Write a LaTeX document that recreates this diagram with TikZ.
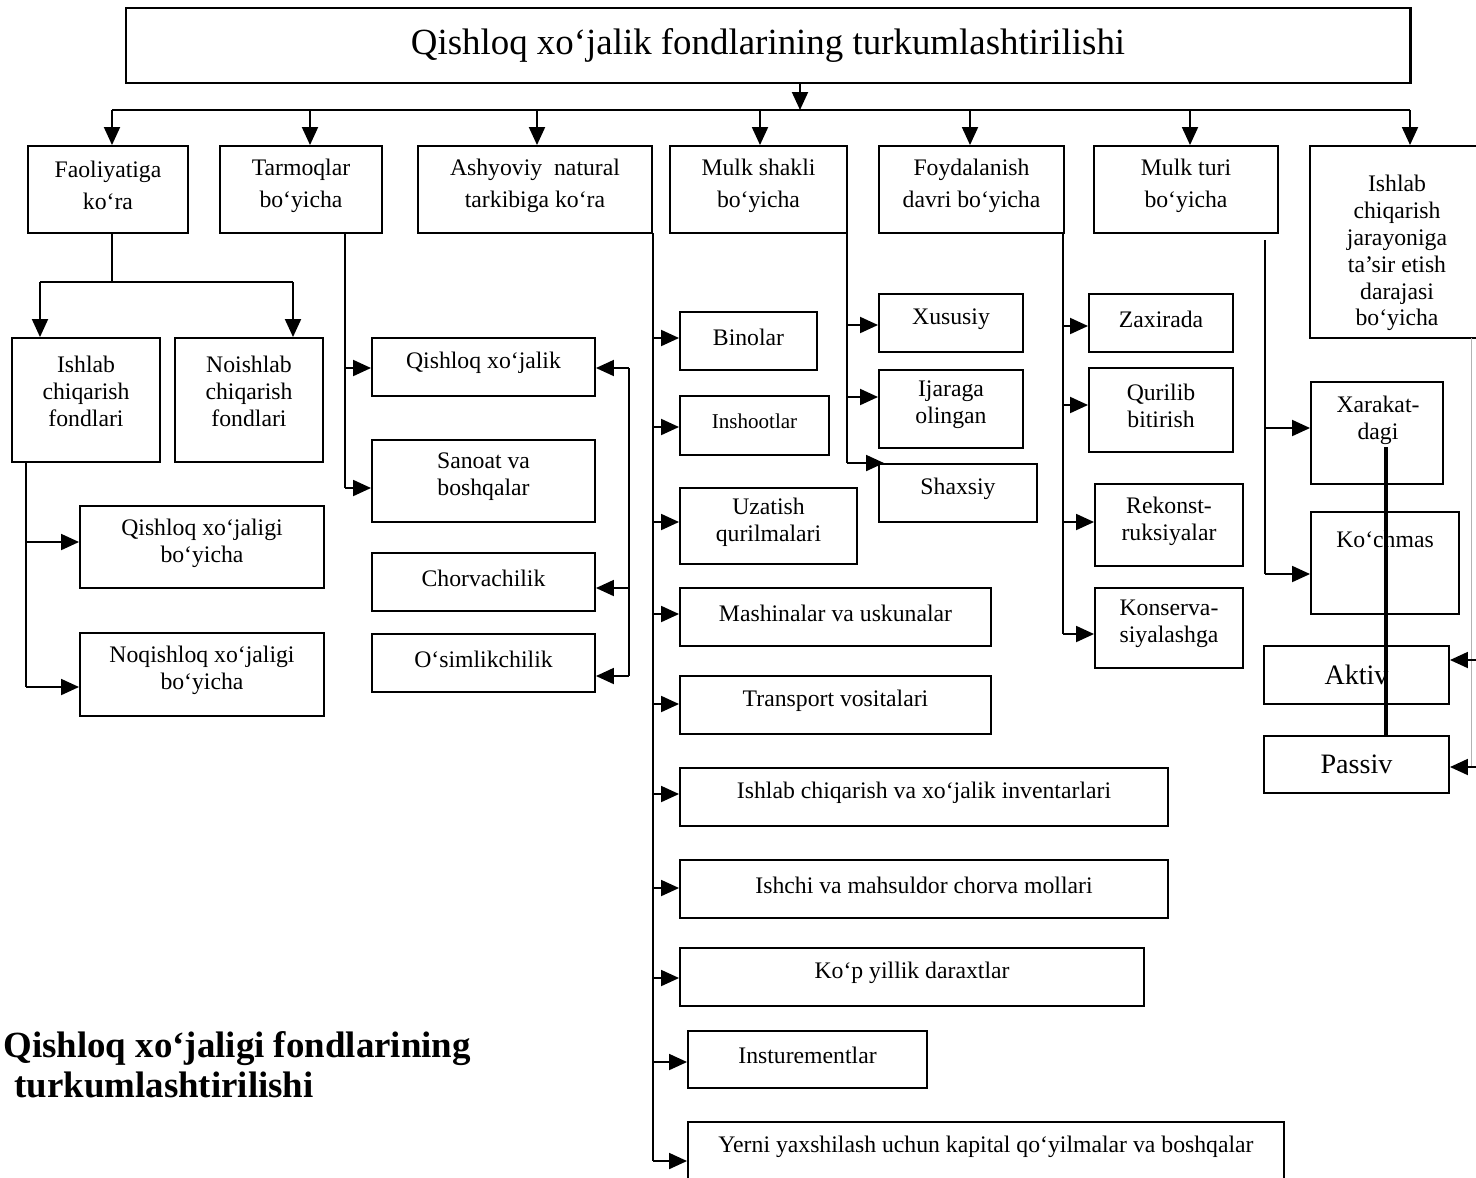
\documentclass[tikz,border=0pt]{standalone}
\usepackage{fontspec}
\setmainfont{Liberation Serif}
\usetikzlibrary{arrows.meta,fit}

\tikzset{
  box/.style={draw, line width=1.1pt, inner sep=0pt},
  lab/.style={inner sep=0pt, align=center, font=\fontsize{13.5}{15.3}\selectfont},
  clab/.style={lab, yshift=0.08cm},
  hlab/.style={clab, font=\fontsize{13.5}{18.2}\selectfont},
  arr/.style={-{Triangle[length=0.36cm,width=0.32cm]}, line width=1.1pt},
  ln/.style={line width=1.1pt},
}

\begin{document}
\begin{tikzpicture}[x=0.02cm, y=-0.02cm]
  \useasboundingbox (0,0) rectangle (1476,1177);

  % title and bus
  \node[box, line width=1.7pt, fit={(126,8) (1410,83)},
        label={[lab, font=\fontsize{21}{25}\selectfont]center:Qishloq xo‘jalik fondlarining turkumlashtirilishi}] (title) {};
  \coordinate (busL) at (112,110);
  \coordinate (busR) at (1410,110);
  \coordinate (tarr) at ([xshift=0.64cm]title.south);
  \draw[ln] (busL) -- (busR);
  \draw[arr] (tarr) -- (tarr |- busL);

  % top row
  \node[box, fit={(28,146) (188,233)}, label={[hlab]center:{Faoliyatiga\\ko‘ra}}] (faol) {};
  \node[box, fit={(220,146) (382,233)}, label={[hlab]center:{Tarmoqlar\\bo‘yicha}}] (tarm) {};
  \node[box, fit={(418,146) (652,233)}, label={[hlab]center:{Ashyoviy\ \ natural\\tarkibiga ko‘ra}}] (ashy) {};
  \node[box, fit={(670,146) (847,233)}, label={[hlab]center:{Mulk shakli\\bo‘yicha}}] (mshak) {};
  \node[box, fit={(879,146) (1064,233)}, label={[hlab]center:{Foydalanish\\davri bo‘yicha}}] (foyd) {};
  \node[box, fit={(1094,146) (1278,233)}, label={[hlab]center:{Mulk turi\\bo‘yicha}}] (mturi) {};
  \node[box, fit={(1310,146) (1480,338)}] (ishjar) {};
  \node[lab] (ishjartx) at (1397,253) {Ishlab\\chiqarish\\jarayoniga\\ta’sir etish\\darajasi\\bo‘yicha};

  \foreach \x/\n in {112/faol, 310/tarm, 537/ashy, 760/mshak, 970/foyd, 1190/mturi, 1410/ishjar}{
    \coordinate (b) at (\x,110);
    \draw[arr] (b) -- (b |- \n.north);
  }

  % Faoliyatiga ko'ra
  \node[box, fit={(12,338) (160,462)}, label={[lab, yshift=0.18cm]center:{Ishlab\\chiqarish\\fondlari}}] (ishf) {};
  \node[box, fit={(175,338) (323,462)}, label={[lab, yshift=0.18cm]center:{Noishlab\\chiqarish\\fondlari}}] (noishf) {};
  \coordinate (fJ) at (112,282);
  \coordinate (fL) at (40,282);
  \coordinate (fR) at (293,282);
  \draw[ln] (fJ |- faol.south) -- (fJ);
  \draw[ln] (fL) -- (fR);
  \draw[arr] (fL) -- (fL |- ishf.north);
  \draw[arr] (fR) -- (fR |- noishf.north);

  \node[box, fit={(80,506) (324,588)}, label={[clab]center:{Qishloq xo‘jaligi\\bo‘yicha}}] (qxb) {};
  \node[box, fit={(80,633) (324,716)}, label={[clab]center:{Noqishloq xo‘jaligi\\bo‘yicha}}] (nqxb) {};
  \coordinate (iT) at (26,462);
  \coordinate (i1) at (26,542);
  \coordinate (iB) at (26,687);
  \draw[ln] (iT) -- (iB);
  \draw[arr] (i1) -- (i1 -| qxb.west);
  \draw[arr] (iB) -- (iB -| nqxb.west);

  % Tarmoqlar bo'yicha
  \node[box, fit={(372,338) (595,396)}, label={[clab]center:Qishloq xo‘jalik}] (qxj) {};
  \node[box, fit={(372,440) (595,522)}, label={[clab]center:{Sanoat va\\boshqalar}}] (sanoat) {};
  \node[box, fit={(372,553) (595,611)}, label={[clab]center:Chorvachilik}] (chorva) {};
  \node[box, fit={(372,634) (595,692)}, label={[clab]center:O‘simlikchilik}] (osim) {};
  \coordinate (tT) at (345,233);
  \coordinate (t1) at (345,368);
  \coordinate (tB) at (345,488);
  \draw[ln] (tT) -- (tB);
  \draw[arr] (t1) -- (t1 -| qxj.west);
  \draw[arr] (tB) -- (tB -| sanoat.west);
  \coordinate (rT) at (629,368);
  \coordinate (r1) at (629,588);
  \coordinate (rB) at (629,676);
  \draw[ln] (rT) -- (rB);
  \draw[arr] (rT) -- (rT -| qxj.east);
  \draw[arr] (r1) -- (r1 -| chorva.east);
  \draw[arr] (rB) -- (rB -| osim.east);

  % Ashyoviy natural tarkibiga ko'ra
  \node[box, fit={(680,312) (817,370)}, label={[clab]center:Binolar}] (bin) {};
  \node[box, fit={(680,396) (829,455)}, label={[clab, font=\fontsize{12}{14}\selectfont]center:Inshootlar}] (insh) {};
  \node[box, fit={(680,488) (857,564)}, label={[clab]center:{Uzatish\\qurilmalari}}] (uzat) {};
  \node[box, fit={(680,588) (991,646)}, label={[clab]center:Mashinalar va uskunalar}] (mash) {};
  \node[box, fit={(680,676) (991,734)}, label={[clab]center:Transport vositalari}] (trans) {};
  \node[box, fit={(680,768) (1168,826)}, label={[clab]center:Ishlab chiqarish va xo‘jalik inventarlari}] (inv) {};
  \node[box, fit={(680,860) (1168,918)}, label={[clab]center:Ishchi va mahsuldor chorva mollari}] (ishchi) {};
  \node[box, fit={(680,948) (1144,1006)}, label={[clab]center:Ko‘p yillik daraxtlar}] (kop) {};
  \node[box, fit={(688,1031) (927,1088)}, label={[clab]center:Insturementlar}] (instr) {};
  \node[box, fit={(688,1122) (1284,1182)}] (yerni) {};
  \node[lab] (yernitx) at (986,1147) {Yerni yaxshilash uchun kapital qo‘yilmalar va boshqalar};
  \coordinate (aT) at (653,233);
  \coordinate (aB) at (653,1161);
  \draw[ln] (aT) -- (aB);
  \foreach \y/\n in {338/bin, 427/insh, 522/uzat, 614/mash, 704/trans, 794/inv,
                     888/ishchi, 978/kop, 1062/instr, 1161/yerni}{
    \coordinate (a) at (653,\y);
    \draw[arr] (a) -- (a -| \n.west);
  }

  % Mulk shakli bo'yicha
  \node[box, fit={(879,294) (1023,352)}, label={[clab]center:Xususiy}] (xus) {};
  \node[box, fit={(879,370) (1023,448)}, label={[clab]center:{Ijaraga\\olingan}}] (ijara) {};
  \node[box, fit={(879,464) (1037,522)}, label={[clab]center:Shaxsiy}] (shax) {};
  \coordinate (mT) at (847,233);
  \coordinate (mB) at (847,463);
  \draw[ln] (mT) -- (mB);
  \foreach \y/\n in {325/xus, 397/ijara}{
    \coordinate (m) at (847,\y);
    \draw[arr] (m) -- (m -| \n.west);
  }
  \draw[arr] (mB) -- ([xshift=0.12cm]shax.north west);

  % Foydalanish davri bo'yicha
  \node[box, fit={(1089,294) (1233,352)}, label={[clab]center:Zaxirada}] (zax) {};
  \node[box, fit={(1089,368) (1233,452)}, label={[clab]center:{Qurilib\\bitirish}}] (qur) {};
  \node[box, fit={(1095,484) (1243,566)}, label={[clab]center:{Rekonst-\\ruksiyalar}}] (rek) {};
  \node[box, fit={(1095,588) (1243,668)}, label={[clab]center:{Konserva-\\siyalashga}}] (kons) {};
  \coordinate (dT) at (1063,233);
  \coordinate (dB) at (1063,634);
  \draw[ln] (dT) -- (dB);
  \foreach \y/\n in {326/zax, 405/qur, 522/rek, 634/kons}{
    \coordinate (d) at (1063,\y);
    \draw[arr] (d) -- (d -| \n.west);
  }

  % Mulk turi bo'yicha
  \node[box, fit={(1311,382) (1443,484)}] (xarak) {};
  \node[lab] (xaraktx) at (1378,420) {Xarakat-\\dagi};
  \node[box, fit={(1311,512) (1459,614)}] (koch) {};
  \node[lab] (kochtx) at (1385,539) {Ko‘chmas};
  \coordinate (kT) at (1265,240);
  \coordinate (k1) at (1265,428);
  \coordinate (kB) at (1265,574);
  \draw[ln] (kT) -- (kB);
  \draw[arr] (k1) -- (k1 -| xarak.west);
  \draw[arr] (kB) -- (kB -| koch.west);

  % Ishlab chiqarish jarayoniga ta'sir etish darajasi bo'yicha
  \node[box, fit={(1264,646) (1449,704)},
        label={[lab, font=\fontsize{16}{18}\selectfont]center:Aktiv}] (aktiv) {};
  \node[box, fit={(1264,736) (1449,793)},
        label={[lab, font=\fontsize{16}{18}\selectfont]center:Passiv}] (passiv) {};
  \coordinate (jT) at (1471,338);
  \coordinate (j1) at (1476,660);
  \coordinate (jB) at (1476,767);
  \draw[gray!60, line width=0.5pt] (jT) -- (jT |- jB);
  \draw[arr] (j1) -- (j1 -| aktiv.east);
  \draw[arr] (jB) -- (jB -| passiv.east);
  \coordinate (thk) at (1386,447);
  \draw[line width=2.3pt] (thk) -- (thk |- passiv.north);

  % caption
  \node[anchor=north west, inner sep=0pt, align=left,
        font=\fontsize{21}{22.7}\selectfont\bfseries] (capt) at (3,1031)
        {Qishloq xo‘jaligi fondlarining\\\hspace*{0.3em}turkumlashtirilishi};
\end{tikzpicture}
\end{document}
